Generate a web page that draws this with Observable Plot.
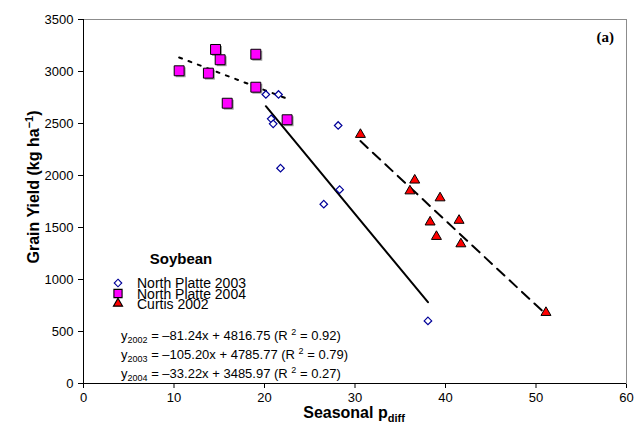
<!DOCTYPE html>
<html><head><meta charset="utf-8">
<script src="https://cdn.jsdelivr.net/npm/d3@7"></script>
<script src="https://cdn.jsdelivr.net/npm/@observablehq/plot@0.6"></script>
<style>body{margin:0;background:#fff} #chart{width:634px;height:437px}</style>
</head><body><div id="chart"></div>
<script>
// North Platte 2003 (open diamonds)
const np2003X = [20.15, 21.55, 20.74, 20.96, 21.77, 26.55, 28.14, 28.3, 38.06];
const np2003Y = [2779, 2779, 2545, 2497, 2070, 1724, 2481, 1864, 602];
// North Platte 2004 (magenta squares)
const np2004X = [10.57, 14.59, 15.1, 13.8, 19.04, 19.04, 15.88, 22.5];
const np2004Y = [3007, 3212, 3113, 2984, 3166, 2849, 2695, 2536];
// Curtis 2002 (red triangles)
const curtisX = [30.6, 36.6, 36.07, 39.4, 38.3, 41.5, 39.0, 41.7, 51.1];
const curtisY = [2394, 1955, 1851, 1784, 1552, 1568, 1413, 1342, 682];
// regression fits
const fitYears = [2002, 2003, 2004];
const fitSlopes = [-81.24, -105.20, -33.22];
const fitIntercepts = [4816.75, 4785.77, 3485.97];
const fitR2 = [0.92, 0.79, 0.27];
// ticks and labels
const xTicks = [0, 10, 20, 30, 40, 50, 60];
const yTicks = [0, 500, 1000, 1500, 2000, 2500, 3000, 3500];
const seriesNames = ["North Platte 2003", "North Platte 2004", "Curtis 2002"];
const groupTitle = "Soybean";
const panelLabel = "(a)";

const zip = (xs, ys) => xs.map((x, i) => ({x, y: ys[i]}));
const d2003 = zip(np2003X, np2003Y);
const d2004 = zip(np2004X, np2004Y);
const d2002 = zip(curtisX, curtisY);
const xsByYear = {2002: curtisX, 2003: np2003X, 2004: np2004X};
const fitLine = (i) => {
  const [x0, x1] = d3.extent(xsByYear[fitYears[i]]);
  return [x0, x1].map(x => ({x, y: fitSlopes[i] * x + fitIntercepts[i]}));
};

const FONT = "'Liberation Sans', Arial, sans-serif";
const plot = Plot.plot({
  width: 634, height: 437,
  marginLeft: 83, marginRight: 8, marginTop: 19, marginBottom: 54,
  style: {fontFamily: FONT, fontSize: "13px", color: "black", background: "white", overflow: "visible"},
  x: {domain: [0, 60], ticks: xTicks, tickFormat: d => String(d), label: null, tickSize: 5, tickPadding: 4},
  y: {domain: [0, 3500], ticks: yTicks, tickFormat: d => String(d), label: null, tickSize: 5, tickPadding: 5},
  marks: [
    Plot.frame({stroke: "#8c8c8c"}),
    Plot.ruleX([0], {stroke: "black"}),
    Plot.ruleY([0], {stroke: "black"}),
    Plot.line(fitLine(0), {x: "x", y: "y", stroke: "black", strokeWidth: 2, strokeDasharray: "10,7"}),
    Plot.line(fitLine(1), {x: "x", y: "y", stroke: "black", strokeWidth: 2}),
    Plot.line(fitLine(2), {x: "x", y: "y", stroke: "black", strokeWidth: 2, strokeDasharray: "3,7"}),
    Plot.dot(d2003, {x: "x", y: "y", symbol: "diamond2", r: 3.4, stroke: "#000099", strokeWidth: 1.2, fill: "white"}),
    Plot.dot(d2004, {x: "x", y: "y", symbol: "square", r: 5.6, fill: "#999", stroke: "none", dx: 1.5, dy: 1.5}),
    Plot.dot(d2004, {x: "x", y: "y", symbol: "square", r: 5.6, fill: "#ff00ff", stroke: "black", strokeWidth: 1}),
    Plot.dot(d2002, {x: "x", y: "y", symbol: "triangle", r: 3.7, fill: "#ff0000", stroke: "black", strokeWidth: 1})
  ]
});
document.getElementById("chart").appendChild(plot);

const svg = d3.select(plot);
const ann = svg.append("g").attr("text-anchor", "start").attr("font-family", FONT).attr("fill", "black");
// axis titles
const xt = ann.append("text").attr("x", 354).attr("y", 418).attr("text-anchor", "middle")
  .attr("font-weight", "bold").attr("font-size", 16);
xt.append("tspan").text("Seasonal p");
xt.append("tspan").attr("font-size", 11).attr("dy", 4).text("diff");

const yt = ann.append("text").attr("transform", "translate(39,187) rotate(-90)").attr("text-anchor", "middle")
  .attr("font-weight", "bold").attr("font-size", 16);
yt.append("tspan").text("Grain Yield (kg ha");
yt.append("tspan").attr("font-size", 11).attr("dy", -6).text("\u22121");
yt.append("tspan").attr("dy", 6).text(")");

// panel label
ann.append("text").attr("x", 614).attr("y", 42).attr("text-anchor", "end")
  .attr("font-family", "'Liberation Serif', 'Times New Roman', serif").attr("font-weight", "bold")
  .attr("font-size", 15).text(panelLabel);

// legend
ann.append("text").attr("x", 181).attr("y", 264).attr("text-anchor", "middle")
  .attr("font-weight", "bold").attr("font-size", 15).text(groupTitle);
const legendY = [283, 293.5, 303.5];
const legendSym = [
  {s: d3.symbolDiamond2, r: 3.4, fill: "white", stroke: "#000099"},
  {s: d3.symbolSquare, r: 4.6, fill: "#ff00ff", stroke: "black"},
  {s: d3.symbolTriangle, r: 3.4, fill: "#ff0000", stroke: "black"}
];
seriesNames.forEach((name, i) => {
  const m = legendSym[i];
  ann.append("path").attr("transform", `translate(118,${legendY[i]})`)
    .attr("d", d3.symbol(m.s, Math.PI * m.r * m.r)()).attr("fill", m.fill).attr("stroke", m.stroke).attr("stroke-width", 1.1);
  ann.append("text").attr("x", 137).attr("y", legendY[i] + 5).attr("text-anchor", "start").attr("font-size", 14).text(name);
});

// equations
const eqY = [340, 359, 378];
fitYears.forEach((yr, i) => {
  const t = ann.append("text").attr("x", 121).attr("y", eqY[i]).attr("text-anchor", "start").attr("font-size", 13);
  t.append("tspan").text("y");
  t.append("tspan").attr("font-size", 9).attr("dy", 3).text(String(yr));
  t.append("tspan").attr("dy", -3).text(` = \u2013${Math.abs(fitSlopes[i]).toFixed(2)}x + ${fitIntercepts[i].toFixed(2)} (R `);
  t.append("tspan").attr("font-size", 9).attr("dy", -5).text("2");
  t.append("tspan").attr("dy", 5).text(` = ${fitR2[i].toFixed(2)})`);
});
</script>
</body></html>
